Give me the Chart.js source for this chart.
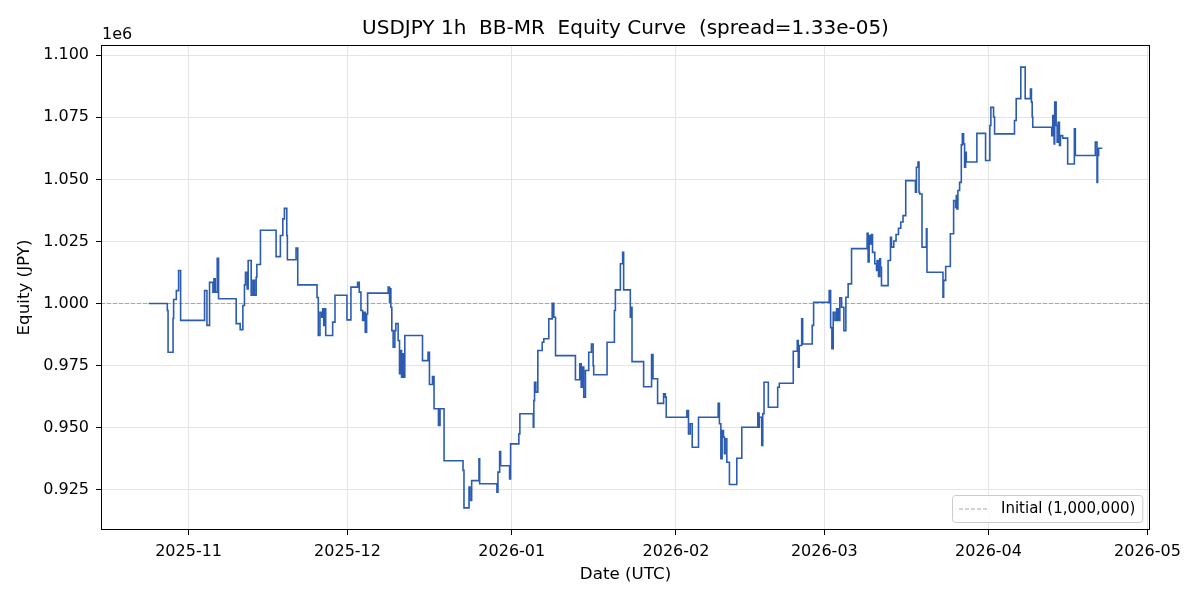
<!DOCTYPE html>
<html>
<head>
<meta charset="utf-8">
<title>USDJPY 1h BB-MR Equity Curve</title>
<script src="https://cdn.jsdelivr.net/npm/chart.js@4.4.1/dist/chart.umd.min.js"></script>
<style>
  html, body { margin: 0; padding: 0; background: #fff; }
  canvas { display: block; }
</style>
</head>
<body>
<canvas id="equityChart" width="1200" height="600"></canvas>
<script>
// time is stored as days since 2025-10-01 00:00 UTC
const START_UTC = Date.UTC(2025, 9, 1);
const DAY_MS = 86400000;

const daysSinceOct1 = [
    23.46, 26.98, 27.12, 28.06, 28.17, 28.68, 29.11, 29.49, 34.01, 34.46,
    34.95, 35.59, 35.78, 36.02, 36.40, 36.65, 39.98, 40.73, 41.24, 41.54,
    41.73, 42.05, 42.24, 42.81, 43.13, 43.43, 43.75, 43.88, 44.56, 47.51,
    48.32, 48.78, 49.08, 49.53, 49.64, 51.28, 51.60, 55.24, 55.48, 55.80,
    56.12, 56.31, 56.50, 56.74, 56.88, 58.19, 58.63, 60.89, 61.64, 62.90,
    63.21, 63.53, 63.85, 64.15, 64.34, 64.60, 64.79, 68.67, 68.93, 69.04,
    69.18, 69.36, 69.61, 69.93, 70.12, 70.55, 70.81, 70.93, 71.19, 71.38,
    71.57, 71.81, 75.15, 76.20, 76.46, 77.03, 77.33, 78.16, 78.46, 79.22,
    82.80, 82.98, 83.93, 84.11, 84.43, 85.81, 85.94, 89.20, 89.39, 89.71,
    89.90, 91.59, 91.78, 93.34, 93.53, 96.06, 96.17, 96.30, 96.55, 96.92,
    97.75, 98.05, 98.99, 99.63, 99.94, 100.26, 104.02, 104.83, 105.10, 105.29,
    105.59, 105.91, 106.53, 107.04, 107.36, 107.47, 109.99, 111.37, 111.56, 112.50,
    112.93, 113.12, 114.38, 114.57, 114.70, 116.89, 118.39, 118.66, 119.53, 120.66,
    120.98, 121.16, 125.06, 125.36, 125.69, 126.06, 127.25, 130.96, 131.20, 131.47,
    131.71, 131.96, 132.15, 132.28, 132.60, 133.09, 134.48, 135.42, 138.44, 138.68,
    138.74, 139.19, 139.38, 139.62, 140.43, 142.20, 142.50, 145.14, 145.89, 146.08,
    146.27, 146.73, 146.91, 148.72, 148.98, 151.92, 152.19, 152.43, 152.68, 153.00,
    153.32, 153.62, 153.93, 154.26, 154.69, 155.07, 155.50, 156.14, 159.08, 159.27,
    159.46, 159.72, 159.91, 160.10, 160.53, 160.85, 160.96, 161.23, 161.47, 161.61,
    161.79, 163.04, 163.49, 163.68, 164.11, 164.54, 165.00, 165.43, 165.86, 166.37,
    168.20, 168.39, 168.69, 168.88, 169.01, 169.44, 170.27, 170.38, 173.40, 173.53,
    173.91, 174.79, 175.41, 175.79, 175.92, 176.03, 176.22, 176.54, 176.86, 177.05,
    177.29, 177.48, 177.67, 177.80, 179.80, 181.44, 182.25, 182.44, 182.95, 183.14,
    186.90, 187.22, 188.09, 188.92, 189.91, 190.10, 190.24, 190.35, 193.93, 194.12,
    194.38, 194.49, 194.76, 194.95, 195.13, 195.38, 195.57, 196.00, 196.94, 198.20,
    198.39, 202.16, 202.48, 202.59, 202.78, 203.48
];

const equityJpy = [
    1000000, 997200, 980400, 994000, 1001600, 1005200, 1013300, 993200, 1005200, 991200,
    1008500, 1004600, 1010000, 1004600, 1018200, 1001900, 991900, 989500, 999200, 1007500,
    1012600, 1005900, 1017300, 1003300, 1009300, 1003300, 1010600, 1015700, 1029500, 1018900,
    1027400, 1034100, 1038300, 1027400, 1017600, 1022300, 1007500, 1002400, 987100, 996500,
    994500, 997900, 991200, 997900, 987100, 992500, 1003300, 993400, 1006600, 1008500,
    1004600, 997200, 993200, 996500, 988400, 995800, 1004200, 1006600, 1000500, 1005900,
    998500, 989100, 982400, 989100, 991900, 985100, 971700, 981100, 970300, 979800,
    970300, 987100, 977000, 980400, 967400, 970600, 957600, 950900, 957600, 936700,
    932800, 917700, 926100, 920700, 928700, 937500, 927400, 924000, 932100, 940400,
    934700, 929400, 943500, 947500, 955600, 950200, 960900, 968300, 964300, 981100,
    984400, 985800, 993800, 1000100, 994500, 979000, 969300, 975700, 966300, 974400,
    962300, 973000, 980400, 983700, 975000, 971300, 984400, 997200, 1005500, 1016000,
    1020600, 1005500, 994500, 998500, 976600, 966500, 979500, 969700, 959800, 963600,
    962300, 954200, 956900, 947500, 951600, 942100, 954200, 959800, 951600, 937500,
    948800, 946200, 939500, 945500, 936100, 927100, 937700, 950200, 955900, 950200,
    954200, 942800, 955600, 968300, 958200, 966300, 967900, 980800, 985100, 974400,
    983100, 993800, 983700, 991200, 1000500, 1005200, 990300, 981800, 996500, 993200,
    997900, 993200, 1002300, 998500, 989100, 1002500, 1007900, 1022100, 1028300, 1016700,
    1027400, 1024000, 1027800, 1020600, 1016000, 1013300, 1017300, 1010900, 1018000, 1014600,
    1007200, 1017300, 1026700, 1022700, 1025200, 1027800, 1030300, 1032800, 1035400, 1049500,
    1044800, 1054900, 1057000, 1044800, 1044100, 1022700, 1030100, 1012600, 1002500, 1009300,
    1014900, 1028100, 1041500, 1038700, 1043500, 1038100, 1045500, 1048800, 1063900, 1068300,
    1064300, 1054900, 1060900, 1057000, 1068500, 1057600, 1071700, 1079000, 1075100, 1068300,
    1073700, 1082500, 1095200, 1082500, 1086400, 1081100, 1075100, 1071000, 1067600, 1075700,
    1064300, 1081100, 1071700, 1065000, 1073000, 1063700, 1067600, 1066600, 1056200, 1070400,
    1059600, 1065000, 1048800, 1059600, 1062500, 1062500
];

const INITIAL = 1000000;
const yTicks = [925000, 950000, 975000, 1000000, 1025000, 1050000, 1075000, 1100000];
const monthTicks = ['2025-11', '2025-12', '2026-01', '2026-02', '2026-03', '2026-04', '2026-05'];

// axis limits (matplotlib-like 5% margins)
const X_MIN_DAYS = 14.46, X_MAX_DAYS = 212.48;
const Y_MIN = 908800, Y_MAX = 1104100;

const toMs = d => START_UTC + d * DAY_MS;
const xMin = toMs(X_MIN_DAYS), xMax = toMs(X_MAX_DAYS);
const monthMs = monthTicks.map(m => {
    const [yy, mm] = m.split('-');
    return Date.UTC(+yy, +mm - 1, 1);
});

const equityPoints = daysSinceOct1.map((d, i) => ({ x: toMs(d), y: equityJpy[i] }));
const FONT = '"DejaVu Sans", "Liberation Sans", sans-serif';

// spines, title, offset text and legend, drawn like matplotlib does
const mplDecor = {
    id: 'mplDecor',
    afterDatasetsDraw(chart) {
        const { ctx, chartArea: a } = chart;
        ctx.save();
        ctx.strokeStyle = '#000';
        ctx.lineWidth = 1;
        ctx.strokeRect(a.left + 0.5, a.top + 0.5, a.right - a.left - 1, a.bottom - a.top - 1);
        ctx.restore();
    },
    afterDraw(chart) {
        const { ctx, chartArea: a } = chart;
        ctx.save();
        ctx.fillStyle = '#000';

        ctx.font = '20px ' + FONT;
        ctx.textAlign = 'center';
        ctx.textBaseline = 'middle';
        ctx.fillText('USDJPY 1h  BB-MR  Equity Curve  (spread=1.33e-05)', (a.left + a.right) / 2, 29);

        ctx.font = '16px ' + FONT;
        ctx.textAlign = 'left';
        ctx.textBaseline = 'alphabetic';
        ctx.fillText('1e6', a.left + 1, a.top - 6);

        // legend box, lower right
        const ds = chart.data.datasets[1];
        ctx.font = '15px ' + FONT;
        const tw = ctx.measureText(ds.label).width;
        const w = tw + 56, h = 27;
        const x = Math.round(a.right - 8 - w), y = Math.round(a.bottom - 8 - h);
        ctx.beginPath();
        if (ctx.roundRect) ctx.roundRect(x + 0.5, y + 0.5, w, h, 3);
        else ctx.rect(x + 0.5, y + 0.5, w, h);
        ctx.fillStyle = 'rgba(255,255,255,0.8)';
        ctx.fill();
        ctx.strokeStyle = '#cccccc';
        ctx.lineWidth = 1;
        ctx.stroke();

        ctx.beginPath();
        ctx.setLineDash(ds.borderDash);
        ctx.strokeStyle = ds.borderColor;
        ctx.lineWidth = ds.borderWidth;
        ctx.moveTo(x + 7, y + h / 2 + 0.5);
        ctx.lineTo(x + 36, y + h / 2 + 0.5);
        ctx.stroke();
        ctx.setLineDash([]);

        ctx.fillStyle = '#000';
        ctx.textBaseline = 'middle';
        ctx.fillText(ds.label, x + 49, y + h / 2 + 1);
        ctx.restore();
    }
};

const ctx = document.getElementById('equityChart').getContext('2d');

new Chart(ctx, {
    type: 'line',
    data: {
        datasets: [{
            label: 'Equity',
            data: equityPoints,
            borderColor: '#2b5cb2',
            borderWidth: 1.6,
            pointRadius: 0,
            stepped: true,
            fill: false
        }, {
            label: 'Initial (1,000,000)',
            data: [{ x: xMin, y: INITIAL }, { x: xMax, y: INITIAL }],
            borderColor: '#a6a6a6',
            borderWidth: 1,
            borderDash: [4, 2],
            pointRadius: 0,
            fill: false
        }]
    },
    options: {
        responsive: false,
        animation: false,
        devicePixelRatio: 1,
        layout: { padding: { left: 0, right: 50, top: 45, bottom: 0 } },
        plugins: {
            legend: { display: false },
            tooltip: { enabled: false },
            title: { display: false }
        },
        scales: {
            x: {
                type: 'linear',
                min: xMin,
                max: xMax,
                afterBuildTicks: scale => { scale.ticks = monthMs.map(v => ({ value: v })); },
                afterFit: scale => { scale.height = 70; },
                ticks: {
                    autoSkip: false,
                    maxRotation: 0,
                    padding: 7,
                    color: '#000',
                    font: { family: FONT, size: 16 },
                    callback: (value, index) => monthTicks[index]
                },
                grid: { color: '#e4e4e4', tickColor: '#000', tickLength: 5, lineWidth: 1 },
                border: { display: false },
                title: {
                    display: true,
                    text: 'Date (UTC)',
                    color: '#000',
                    font: { family: FONT, size: 16.7 },
                    padding: { top: 0, bottom: 15 }
                }
            },
            y: {
                type: 'linear',
                min: Y_MIN,
                max: Y_MAX,
                afterBuildTicks: scale => { scale.ticks = yTicks.map(v => ({ value: v })); },
                afterFit: scale => { scale.width = 101; },
                ticks: {
                    padding: 7,
                    color: '#000',
                    font: { family: FONT, size: 16 },
                    callback: value => (value / 1e6).toFixed(3)
                },
                grid: { color: '#e4e4e4', tickColor: '#000', tickLength: 5, lineWidth: 1 },
                border: { display: false },
                title: {
                    display: true,
                    text: 'Equity (JPY)',
                    color: '#000',
                    font: { family: FONT, size: 16.7 },
                    padding: { top: 15, bottom: 0 }
                }
            }
        }
    },
    plugins: [mplDecor]
});
</script>
</body>
</html>
